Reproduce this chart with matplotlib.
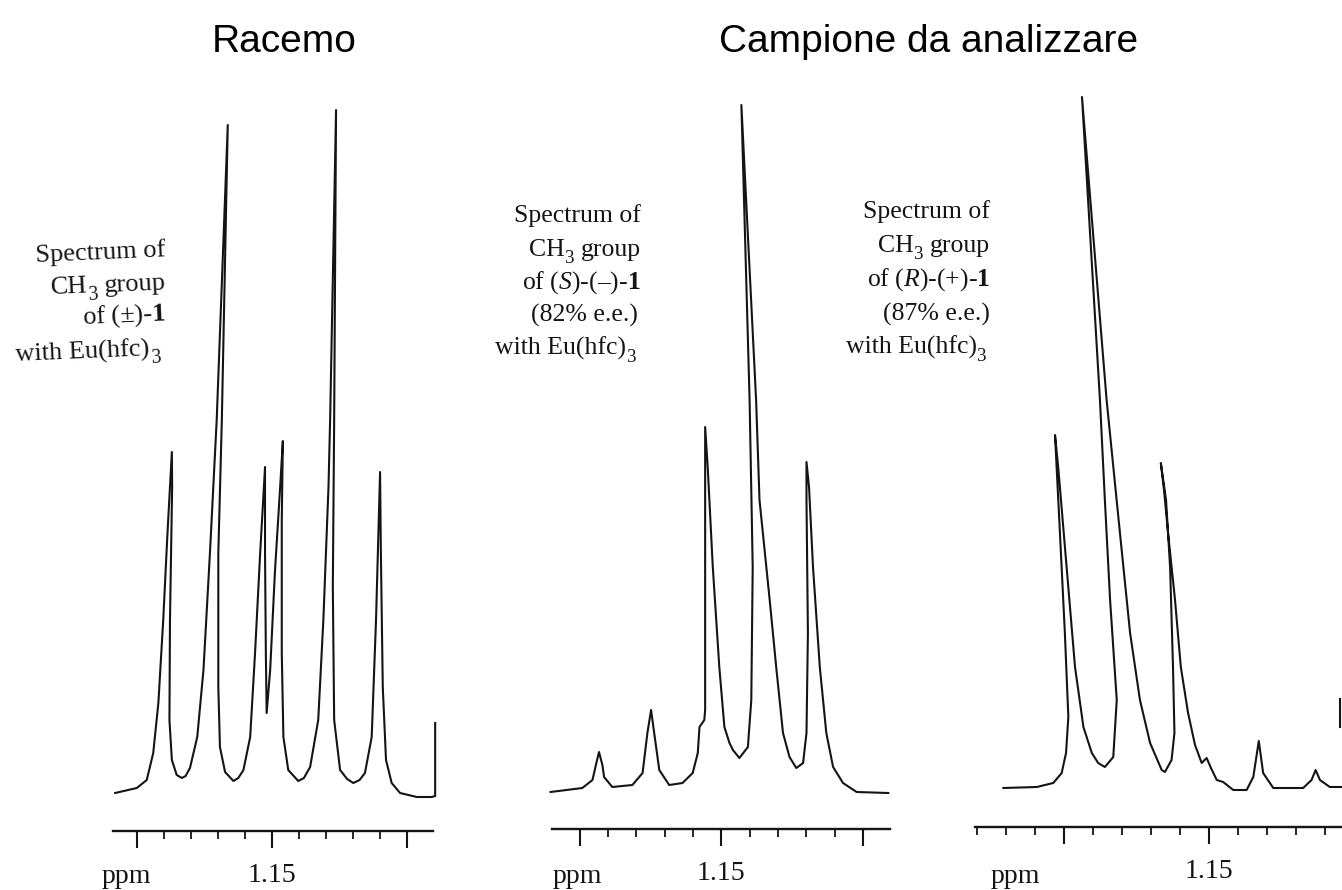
import math
import matplotlib
matplotlib.use('Agg')
import matplotlib.pyplot as plt
from matplotlib.ticker import MultipleLocator

W, H = 1342, 890

# traced CH3 spectra: chemical shift (ppm) and intensity (arbitrary units)
racemo_ppm = [1.2081, 1.2001, 1.1964, 1.1940, 1.1921, 1.1903, 1.1888, 1.1871,
              1.1870, 1.1878, 1.1880, 1.1871, 1.1853, 1.1834, 1.1820,
              1.1804, 1.1777, 1.1754, 1.1730, 1.1705, 1.1664,
              1.1686, 1.1699, 1.1699, 1.1693, 1.1674, 1.1643, 1.1625,
              1.1606, 1.1581, 1.1563, 1.1544, 1.1526, 1.1526, 1.1523, 1.1520,
              1.1507, 1.1489, 1.1470, 1.1460, 1.1464, 1.1464, 1.1458, 1.1440, 1.1403, 1.1382,
              1.1359, 1.1329, 1.1310, 1.1291, 1.1285, 1.1263,
              1.1270, 1.1275, 1.1270, 1.1248, 1.1222, 1.1199, 1.1176,
              1.1156, 1.1131, 1.1115, 1.1100, 1.1097, 1.1090, 1.1078, 1.1057,
              1.1026, 1.0964, 1.0909, 1.0896, 1.0896]
racemo_int = [2, 7, 15, 42, 92, 175, 258, 343,
              308, 175, 75, 35, 20, 17, 19,
              27, 58, 125, 242, 375, 670,
              375, 242, 108, 48, 23, 14, 17,
              25, 58, 142, 242, 328, 242, 142, 82,
              125, 225, 308, 354, 275, 142, 58, 25, 14, 17,
              28, 75, 175, 308, 375, 685,
              375, 208, 75, 25, 16, 12, 15,
              22, 58, 175, 323, 242, 108, 35, 12,
              2, -2, -2, -1, 72]

s_ppm = [1.2103, 1.1991, 1.1955, 1.1943, 1.1932, 1.1920, 1.1914, 1.1885,
         1.1814, 1.1778, 1.1761, 1.1748, 1.1737, 1.1719, 1.1684,
         1.1637, 1.1601, 1.1583, 1.1577, 1.1560, 1.1557, 1.1557,
         1.1548, 1.1530, 1.1507, 1.1489, 1.1471, 1.1459, 1.1436,
         1.1406, 1.1394, 1.1389, 1.1400, 1.1429,
         1.1377, 1.1365, 1.1329, 1.1306, 1.1282, 1.1259, 1.1235,
         1.1211, 1.1199, 1.1194, 1.1199, 1.1199,
         1.1190, 1.1176, 1.1152, 1.1129, 1.1105, 1.1070, 1.1022, 1.0910]
s_int = [1, 5, 13, 28, 41, 28, 16, 6,
         8, 20, 60, 83, 60, 23, 8,
         10, 20, 40, 66, 73, 83, 366,
         326, 226, 126, 66, 50, 43, 35,
         46, 93, 226, 393, 688,
         393, 293, 193, 126, 60, 36, 25,
         30, 60, 160, 293, 331,
         306, 226, 126, 60, 26, 10, 1, 0]

r_ppm = [1.2209, 1.2094, 1.2037, 1.2008, 1.1993, 1.1985, 1.1997, 1.2014, 1.2031,
         1.2020, 1.1991, 1.1962, 1.1933, 1.1904, 1.1882, 1.1859,
         1.1830, 1.1818, 1.1841, 1.1859, 1.1876, 1.1938,
         1.1853, 1.1807, 1.1772, 1.1738, 1.1703, 1.1663, 1.1652,
         1.1629, 1.1619, 1.1624, 1.1634, 1.1648, 1.1666,
         1.1655, 1.1641, 1.1617, 1.1597, 1.1572, 1.1548,
         1.1525, 1.1508, 1.1493, 1.1473, 1.1451, 1.1416,
         1.1370, 1.1347, 1.1328, 1.1313, 1.1278,
         1.1175, 1.1146, 1.1132, 1.1117, 1.1083, 1.1041]
r_int = [1, 2, 6, 16, 36, 72, 156, 256, 354,
         322, 222, 122, 62, 36, 26, 22,
         32, 89, 189, 289, 389, 692,
         389, 256, 156, 89, 46, 19, 17,
         29, 56, 122, 222, 289, 326,
         299, 256, 189, 122, 76, 44,
         26, 31, 21, 9, 7, -1,
         -1, 12, 48, 16, 1,
         1, 9, 19, 9, 2, 2]
r_mark_ppm = [1.1048, 1.1048]
r_mark_int = [62, 90]

titles = ['Racemo', 'Campione da analizzare']
# each note line: list of (text, style); 'sub' pieces are lowered subscripts
ch3_line = [('CH', 'n'), ('3', 'sub'), (' ', 'space'), ('group', 'n')]
eu_line = [('with Eu(hfc)', 'n'), ('3', 'sub')]
notes_racemo = [[('Spectrum of', 'n')], ch3_line,
                [(r'of (±)-$\mathbf{1}$', 'n')], eu_line]
notes_s = [[('Spectrum of', 'n')], ch3_line,
           [(r'of ($\mathit{S}$)-(–)-$\mathbf{1}$', 'n')],
           [('(82% e.e.)', 'n')], eu_line]
notes_r = [[('Spectrum of', 'n')], ch3_line,
           [(r'of ($\mathit{R}$)-(+)-$\mathbf{1}$', 'n')],
           [('(87% e.e.)', 'n')], eu_line]

plt.rcParams['font.family'] = 'Liberation Serif'
plt.rcParams['mathtext.fontset'] = 'custom'
plt.rcParams['mathtext.rm'] = 'Liberation Serif'
plt.rcParams['mathtext.it'] = 'Liberation Serif:italic'
plt.rcParams['mathtext.bf'] = 'Liberation Serif:bold'

INK = '#141414'

fig = plt.figure(figsize=(W / 100, H / 100), dpi=100)
renderer = fig.canvas.get_renderer()


def fx(px):
    return px / W


def fy(py):
    return 1 - py / H


def panel(x0, x1, y_axis, base, ppm_left, ppm_right):
    """One spectrum with its ppm scale; 1 intensity unit = 1 pixel."""
    top = 80
    ax = fig.add_axes([fx(x0), fy(y_axis), (x1 - x0) / W, (y_axis - top) / H])
    ax.patch.set_alpha(0)
    for side in ['top', 'left', 'right']:
        ax.spines[side].set_visible(False)
    ax.spines['bottom'].set_linewidth(1.7)
    ax.spines['bottom'].set_color(INK)
    ax.set_yticks([])
    ax.set_xticks([1.20, 1.15, 1.10], labels=['', '1.15', ''])
    ax.xaxis.set_minor_locator(MultipleLocator(0.01))
    ax.tick_params(axis='x', which='major', direction='out', length=12, width=1.5,
                   pad=11, labelsize=20, colors=INK)
    ax.tick_params(axis='x', which='minor', direction='out', length=6, width=1.3,
                   colors=INK)
    ax.set_xlim(ppm_left, ppm_right)
    ax.set_ylim(-(y_axis - base), base - top)
    return ax


def text_width(s, size):
    t = fig.text(0, 0, s, fontsize=size)
    w = t.get_window_extent(renderer).width
    t.remove()
    return w


def note_line(x_right, y_base, parts, size, rot=0.0):
    """Right-aligned line built piece by piece, so subscripts sit low like print."""
    c, s = math.cos(math.radians(rot)), math.sin(math.radians(rot))
    em = size * 100 / 72
    d = 0.0
    for text, style in reversed(parts):
        if style == 'space':
            d += 0.25 * em
            continue
        fs = size * 0.74 if style == 'sub' else size
        drop = 0.27 * em if style == 'sub' else 0.0
        px = x_right - d * c + drop * s
        py_up = (H - y_base) - d * s - drop * c
        fig.text(px / W, py_up / H, text, fontsize=fs, ha='right', va='baseline',
                 rotation=rot, rotation_mode='anchor', color=INK)
        d += text_width(text, fs) + (0.5 if style == 'sub' else 0.0)


ax1 = panel(113, 433, 831, 795, 1.2089, 1.0904)
ax1.plot(racemo_ppm, racemo_int, color=INK, lw=1.5, clip_on=False)

ax2 = panel(552, 890, 829, 793, 1.2098, 1.0904)
ax2.plot(s_ppm, s_int, color=INK, lw=1.5, clip_on=False)

ax3 = panel(975, 1342, 827, 789, 1.2307, 1.1041)
ax3.plot(r_ppm, r_int, color=INK, lw=1.5, clip_on=False)
ax3.plot(r_mark_ppm, r_mark_int, color=INK, lw=1.5, clip_on=False)

# ppm labels under the left end of each scale
for cx in [126, 577, 1015]:
    fig.text(fx(cx), fy(883), 'ppm', ha='center', va='baseline', fontsize=20, color=INK)

# titles
fig.text(fx(284), fy(52), titles[0], ha='center', va='baseline', fontsize=28,
         family='Liberation Sans', color='black')
fig.text(fx(929), fy(52), titles[1], ha='center', va='baseline', fontsize=28,
         family='Liberation Sans', color='black')

# annotations
for parts, yb, xr in zip(notes_racemo, [256, 289, 320, 355], [166, 166, 166, 160]):
    note_line(xr, yb, parts, 19, rot=2.5)
for parts, yb, xr in zip(notes_s, [222, 256, 289, 322, 355], [641, 641, 641, 638, 636]):
    note_line(xr, yb, parts, 18.5)
for parts, yb, xr in zip(notes_r, [218, 252, 286, 321, 354], [990, 990, 990, 990, 987]):
    note_line(xr, yb, parts, 18.5)

fig.savefig('out.png', dpi=100, facecolor='white')
